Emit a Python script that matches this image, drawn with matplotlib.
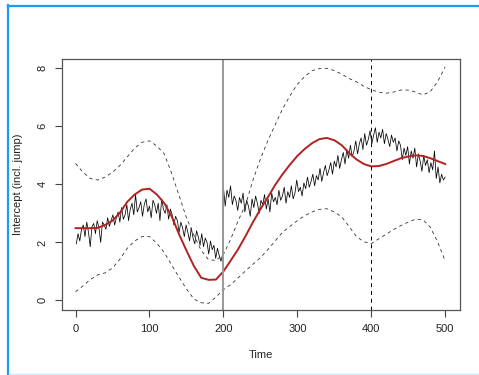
import numpy as np
import matplotlib.pyplot as plt
from matplotlib.lines import Line2D

plt.rcParams['font.family'] = ['Liberation Sans', 'DejaVu Sans']

# noisy observed series, before and after the jump at t=200
y_before = [1.95, 2.3, 2.05, 2.45, 2.6, 2.2, 2.7, 2.35, 1.85, 2.55,
            2.65, 2.3, 2.75, 2.5, 2.0, 2.7, 2.6, 2.45, 2.85, 2.55,
            2.75, 2.95, 2.6, 2.85, 3.05, 2.7, 3.2, 2.8, 2.95, 3.3,
            2.75, 3.15, 3.35, 2.95, 3.65, 3.05, 3.2, 3.4, 2.9, 3.3,
            3.5, 3.05, 3.25, 2.85, 3.45, 3.3, 3.0, 3.35, 2.75, 3.5,
            3.15, 3.0, 3.3, 2.8, 3.15, 2.95, 2.6, 2.9, 2.75, 2.35,
            2.7, 2.5, 2.2, 2.6, 2.35, 2.05, 2.5, 2.15, 1.95, 2.4,
            2.2, 1.9, 2.3, 1.85, 2.15, 2.0, 1.6, 2.05, 1.75, 1.9,
            1.45, 1.8, 1.55, 1.35, 1.6]
y_after = [3.9, 3.25, 3.8, 3.55, 3.95, 3.3, 3.6, 3.45, 3.1, 3.55,
           3.35, 3.7, 3.05, 3.45, 3.25, 2.9, 3.5, 3.2, 3.6, 3.35,
           3.0, 3.45, 3.3, 3.65, 3.15, 3.5, 3.05, 3.7, 3.4, 3.55,
           3.3, 3.8, 3.45, 3.6, 3.9, 3.35, 3.75, 3.55, 3.95, 3.5,
           3.7, 4.15, 3.75, 3.9, 3.6, 4.05, 3.85, 4.25, 3.9, 4.1,
           4.35, 3.95, 4.3, 4.15, 4.55, 4.1, 4.4, 4.65, 4.3, 4.5,
           4.75, 4.35, 4.8, 4.6, 5.0, 4.55, 4.85, 5.1, 4.7, 5.2,
           4.9, 5.35, 4.95, 5.15, 5.5, 5.05, 5.4, 5.6, 5.2, 5.75,
           5.35, 5.55, 5.85, 5.4, 5.7, 5.95, 5.45, 5.8, 5.6, 5.9,
           5.4, 5.75, 5.55, 5.3, 5.7, 5.45, 5.6, 5.15, 5.5, 5.35,
           4.85, 5.25, 5.0, 5.3, 4.7, 5.15, 4.9, 5.25, 4.6, 5.05,
           4.8, 4.45, 5.0, 4.65, 4.85, 4.4, 4.75, 4.5, 5.15, 4.2,
           4.6, 4.05, 4.35, 4.15, 4.25]
t_before = np.linspace(1, 199, len(y_before))
t_after = np.linspace(200, 500, len(y_after))

# smoothed fit and its band
t_fit = np.arange(0, 501, 10)
fit = [2.49, 2.49, 2.49, 2.50, 2.60, 2.75, 3.02, 3.40, 3.65, 3.82,
       3.85, 3.65, 3.35, 2.90, 2.28, 1.72, 1.19, 0.78, 0.71, 0.72,
       1.00, 1.38, 1.77, 2.22, 2.70, 3.14, 3.55, 3.98, 4.35, 4.68,
       4.98, 5.22, 5.42, 5.56, 5.60, 5.52, 5.35, 5.08, 4.86, 4.70,
       4.62, 4.63, 4.70, 4.80, 4.90, 4.96, 5.00, 4.98, 4.90, 4.80,
       4.70]
upper = [4.72, 4.42, 4.20, 4.15, 4.25, 4.42, 4.65, 4.95, 5.25, 5.45,
         5.50, 5.32, 5.05, 4.38, 3.62, 2.85, 2.25, 1.72, 1.40, 1.38,
         1.58, 2.12, 2.75, 3.30, 4.15, 4.87, 5.50, 6.05, 6.60, 7.05,
         7.45, 7.72, 7.92, 7.99, 8.00, 7.92, 7.80, 7.65, 7.53, 7.38,
         7.26, 7.18, 7.14, 7.18, 7.25, 7.25, 7.18, 7.08, 7.20, 7.55,
         8.05]
lower = [0.30, 0.50, 0.72, 0.88, 0.95, 1.12, 1.42, 1.80, 2.05, 2.20,
         2.20, 1.97, 1.65, 1.22, 0.80, 0.40, 0.05, -0.08, -0.10, 0.12,
         0.37, 0.55, 0.78, 1.02, 1.25, 1.47, 1.75, 2.05, 2.35, 2.55,
         2.75, 2.92, 3.05, 3.14, 3.16, 3.05, 2.88, 2.55, 2.20, 2.02,
         1.96, 2.12, 2.28, 2.44, 2.58, 2.70, 2.80, 2.78, 2.52, 2.00,
         1.36]

fig = plt.figure(figsize=(4.79, 3.75), dpi=100)
ax = fig.add_axes([0.1284, 0.1733, 0.8319, 0.6686])

obs_t = np.concatenate([t_before, t_after])
obs_y = y_before + y_after
ax.plot(obs_t, obs_y, color='black', lw=0.55)
ax.plot(t_fit, fit, color='#b22222', lw=1.4)
ax.plot(t_fit, upper, color='#333333', lw=0.6, linestyle=(0, (4, 4)))
ax.plot(t_fit, lower, color='#333333', lw=0.6, linestyle=(0, (4, 4)))
ax.axvline(200, color='#999999', lw=1.4)
ax.axvline(400, color='black', lw=0.7, linestyle=(0, (4, 4)))

ax.set_xlim(-19, 520)
ax.set_ylim(-0.33, 8.31)
ax.set_xticks([0, 100, 200, 300, 400, 500])
ax.set_yticks([0, 2, 4, 6, 8])
ax.tick_params(direction='out', length=5, width=0.8, color='#444444',
               labelsize=8, labelcolor='#222222', pad=5)
for lab in ax.get_yticklabels():
    lab.set_rotation(90)
    lab.set_va('center')
for s in ax.spines.values():
    s.set_color('#555555')
    s.set_linewidth(0.9)

ax.set_xlabel('Time', fontsize=8, color='#222222')
ax.set_ylabel('Intercept (incl. jump)', fontsize=8, color='#222222')
ax.xaxis.set_label_coords(0.5, -0.1775)
ax.xaxis.label.set_va('center')
ax.yaxis.set_label_coords(-0.108, 0.5)
ax.yaxis.label.set_va('center')

# page frame around the figure
W, H = 479, 375
fig.add_artist(Line2D([8.3 / W, 8.3 / W], [0, 1 - 5 / H], transform=fig.transFigure,
                      color='#1a9ff0', lw=1.6))
fig.add_artist(Line2D([7.5 / W, 1], [1 - 6 / H, 1 - 6 / H], transform=fig.transFigure,
                      color='#1a9ff0', lw=1.6))
fig.add_artist(Line2D([9 / W, 1], [1.2 / H, 1.2 / H], transform=fig.transFigure,
                      color='#cde9fb', lw=1.0))

fig.savefig('out.png', dpi=100)
